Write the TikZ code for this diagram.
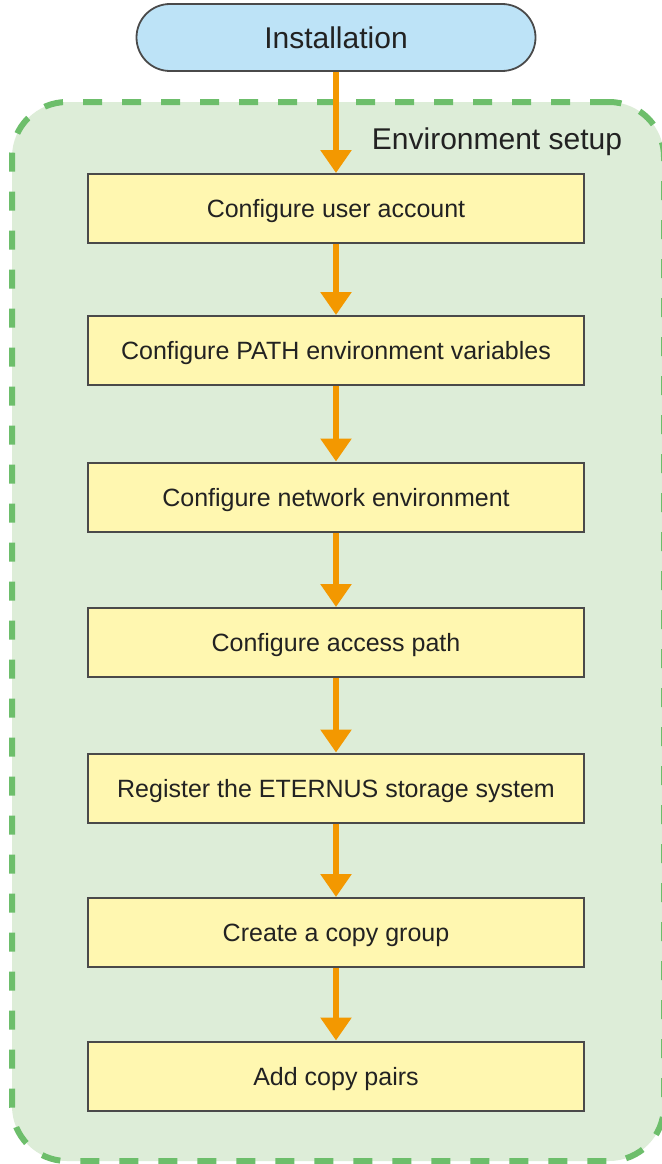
\documentclass[tikz,border=0pt]{standalone}
\usepackage{fontspec}
\setmainfont{Liberation Sans}
\usetikzlibrary{arrows.meta}
\definecolor{instfill}{HTML}{BDE3F7}
\definecolor{regfill}{HTML}{DDEDD8}
\definecolor{regline}{HTML}{6DBE6B}
\definecolor{boxfill}{HTML}{FFF7B0}
\definecolor{boxline}{HTML}{4A4A4A}
\definecolor{arrcol}{HTML}{F39800}
\definecolor{txt}{HTML}{222222}
\begin{document}
\begin{tikzpicture}[x=1pt,y=-1pt,
  region/.style={draw=regline, fill=regfill, line width=6pt, dash pattern=on 19pt off 20pt,
    rounded corners=55pt, minimum width=652pt, minimum height=1059pt, inner sep=0pt},
  inst/.style={draw=boxline, fill=instfill, line width=1.8pt, rounded corners=33.5pt,
    minimum width=399pt, minimum height=67pt, inner sep=0pt, text=txt,
    font=\fontsize{30pt}{36pt}\selectfont, text height=21.5pt, text depth=0pt},
  envlabel/.style={text=txt, font=\fontsize{30pt}{36pt}\selectfont, inner sep=0pt, anchor=base},
  stepbox/.style={draw=boxline, fill=boxfill, line width=2pt, minimum width=496pt,
    minimum height=69pt, inner sep=0pt, text=txt, font=\fontsize{25pt}{30pt}\selectfont,
    text height=18pt, text depth=0pt},
  arr/.style={draw=arrcol, line width=6pt, -{Triangle[width=30pt,length=23pt]}}
]
\useasboundingbox (0,0) rectangle (661,1164);
\fill[white] (0,0) rectangle (661,1164);
\node[region] (env) at (338,631.5) {};
\node[envlabel] (envlbl) at (497,149) {Environment setup};
\node[inst] (inst) at (336,37.5) {Installation};
\node[stepbox] (b1) at (336,208.5) {Configure user account};
\node[stepbox] (b2) at (336,350.5) {Configure PATH environment variables};
\node[stepbox] (b3) at (336,497) {Configure network environment};
\node[stepbox] (b4) at (336,642.5) {Configure access path};
\node[stepbox] (b5) at (336,788) {Register the ETERNUS storage system};
\node[stepbox] (b6) at (336,932.5) {Create a copy group};
\node[stepbox] (b7) at (336,1076) {Add copy pairs};
\draw[arr] (inst) -- (b1);
\draw[arr] (b1) -- (b2);
\draw[arr] (b2) -- (b3);
\draw[arr] (b3) -- (b4);
\draw[arr] (b4) -- (b5);
\draw[arr] (b5) -- (b6);
\draw[arr] (b6) -- (b7);
\end{tikzpicture}
\end{document}
